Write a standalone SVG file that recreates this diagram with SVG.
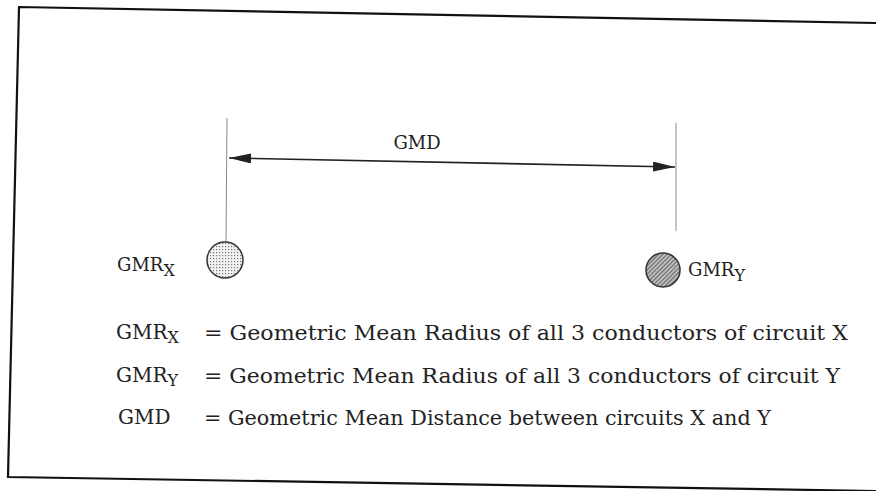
<svg xmlns="http://www.w3.org/2000/svg" width="876" height="491" viewBox="0 0 876 491">
<style>
  .t { font-family: "DejaVu Serif", "Liberation Serif", serif; fill: #222; }
  .lbl { font-size: 18px; }
  .leg { font-size: 20px; }
  .frame { fill: none; stroke: #111; stroke-width: 2.2; }
  .guide { stroke: #888; stroke-width: 1; }
  .dim { stroke: #222; stroke-width: 1.6; fill: none; }
</style>
<defs>
  <pattern id="dots" width="3" height="3" patternUnits="userSpaceOnUse">
    <rect width="3" height="3" fill="#f2f2f2"/>
    <rect x="0" y="0" width="1.2" height="1.2" fill="#777"/>
  </pattern>
  <pattern id="hatch" width="3" height="3" patternUnits="userSpaceOnUse" patternTransform="rotate(45)">
    <rect width="3" height="3" fill="#bbb"/>
    <line x1="0" y1="0" x2="0" y2="3" stroke="#444" stroke-width="1.4"/>
  </pattern>
  <marker id="ah" viewBox="0 0 22 10" refX="22" refY="5" markerWidth="22" markerHeight="10" markerUnits="userSpaceOnUse" orient="auto-start-reverse">
    <path d="M0,0 L22,5 L0,10 Z" fill="#222"/>
  </marker>
</defs>

<g id="frame">
  <polyline class="frame" points="876,23 19,7 8,477 876,491"/>
</g>

<g id="connectors">
  <line class="guide" x1="227" y1="118" x2="226" y2="243"/>
  <line class="guide" x1="676" y1="123" x2="676" y2="231"/>
  <line class="dim" x1="229" y1="158" x2="675" y2="167" marker-start="url(#ah)" marker-end="url(#ah)"/>
  <text class="t lbl" x="417" y="149" text-anchor="middle">GMD</text>
</g>

<g id="circuitX">
  <circle cx="225" cy="260" r="18" fill="url(#dots)" stroke="#333" stroke-width="1.5"/>
  <text class="t lbl" x="117" y="271">GMR<tspan font-size="16" dy="5">X</tspan></text>
</g>

<g id="circuitY">
  <circle cx="663" cy="270" r="17" fill="url(#hatch)" stroke="#333" stroke-width="1.5"/>
  <text class="t lbl" x="688" y="276">GMR<tspan font-size="16" dy="5">Y</tspan></text>
</g>

<g id="legend">
  <text class="t leg" x="116" y="339">GMR<tspan font-size="16" dy="4">X</tspan></text>
  <text class="t leg" x="204" y="340" textLength="644" lengthAdjust="spacingAndGlyphs">= Geometric Mean Radius of all 3 conductors of circuit X</text>
  <text class="t leg" x="116" y="382">GMR<tspan font-size="16" dy="4">Y</tspan></text>
  <text class="t leg" x="204" y="383" textLength="636" lengthAdjust="spacingAndGlyphs">= Geometric Mean Radius of all 3 conductors of circuit Y</text>
  <text class="t leg" x="118" y="424">GMD</text>
  <text class="t leg" x="204" y="425" textLength="567" lengthAdjust="spacingAndGlyphs">= Geometric Mean Distance between circuits X and Y</text>
</g>
</svg>
